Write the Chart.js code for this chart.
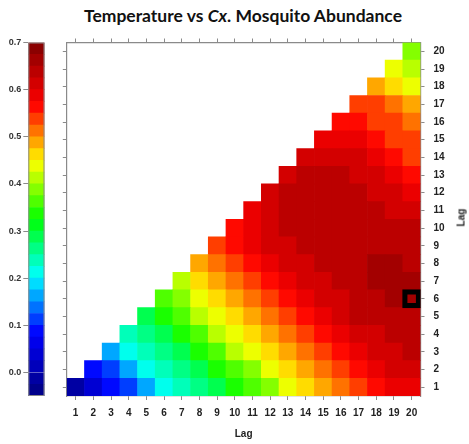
<!DOCTYPE html>
<html>
<head>
<meta charset="utf-8">
<script src="https://cdn.jsdelivr.net/npm/chart.js@4.4.1/dist/chart.umd.min.js"></script>
<style>
  html, body { margin: 0; padding: 0; background: #fff; }
  #wrap { position: relative; width: 469px; height: 444px; overflow: hidden; font-family: "Liberation Sans", Arial, sans-serif; }
  #title { position: absolute; left: 0; width: 486px; top: 5px; text-align: center; font-family: Lato, "Liberation Sans", sans-serif; font-size: 17.5px; font-weight: bold; color: #111; }
  #keyCanvas, #heatCanvas { position: absolute; left: 0; top: 0; }
  #rightTitle { position: absolute; left: 449px; top: 212px; width: 24px; text-align: center; font-size: 10px; font-weight: bold; color: #222; transform: rotate(-90deg); }
</style>
</head>
<body>
<div id="wrap">
  <div id="title">Temperature vs <i>Cx</i>. Mosquito Abundance</div>
  <canvas id="keyCanvas" width="50" height="444"></canvas>
  <canvas id="heatCanvas" width="469" height="444"></canvas>
  <div id="rightTitle">Lag</div>
</div>
<script>
// lags on both axes
var lagLabels = ['1','2','3','4','5','6','7','8','9','10','11','12','13','14','15','16','17','18','19','20'];

// correlation per row (y lag), listed from column x = row up to 20
var rowValues = [
  [-0.02,0.04,0.09,0.11,0.16,0.21,0.24,0.26,0.29,0.34,0.36,0.39,0.44,0.46,0.49,0.51,0.54,0.56,0.59,0.59],
  [0.09,0.11,0.16,0.21,0.24,0.26,0.29,0.34,0.36,0.39,0.44,0.46,0.49,0.51,0.54,0.56,0.59,0.61,0.61],
  [0.16,0.21,0.24,0.26,0.29,0.34,0.36,0.41,0.44,0.46,0.49,0.51,0.54,0.56,0.59,0.61,0.61,0.64],
  [0.24,0.26,0.29,0.34,0.36,0.41,0.44,0.46,0.49,0.51,0.54,0.56,0.59,0.61,0.61,0.64,0.64],
  [0.29,0.34,0.36,0.41,0.44,0.46,0.49,0.51,0.54,0.56,0.59,0.61,0.64,0.64,0.64,0.64],
  [0.36,0.39,0.44,0.46,0.49,0.51,0.54,0.56,0.59,0.61,0.61,0.64,0.64,0.66,0.66],
  [0.41,0.46,0.49,0.51,0.54,0.56,0.59,0.61,0.61,0.64,0.64,0.66,0.66,0.66],
  [0.49,0.51,0.54,0.56,0.59,0.61,0.61,0.64,0.64,0.64,0.66,0.66,0.64],
  [0.54,0.56,0.59,0.61,0.61,0.64,0.64,0.64,0.64,0.64,0.64,0.64],
  [0.56,0.59,0.61,0.64,0.64,0.64,0.64,0.64,0.64,0.64,0.64],
  [0.59,0.61,0.64,0.64,0.64,0.64,0.64,0.64,0.61,0.61],
  [0.61,0.64,0.64,0.64,0.64,0.64,0.61,0.61,0.59],
  [0.61,0.64,0.64,0.64,0.61,0.61,0.59,0.56],
  [0.61,0.61,0.61,0.61,0.59,0.56,0.54],
  [0.59,0.59,0.59,0.56,0.54,0.54],
  [0.56,0.56,0.54,0.54,0.51],
  [0.54,0.54,0.51,0.49],
  [0.49,0.46,0.44],
  [0.44,0.41],
  [0.39]
];

// boxed cell (x lag, y lag)
var markedCell = [20, 6];

// colour key range and labels
var keyMin = -0.05, keyMax = 0.7, keyStep = 0.025;
var keyTicks = [0.0, 0.1, 0.2, 0.3, 0.4, 0.5, 0.6, 0.7];

var rampStops = ['#00008B', '#0000FF', '#00FFFF', '#00FF00', '#FFFF00', '#FF0000', '#8B0000'];

function hexRgb(h) {
  return [parseInt(h.substr(1, 2), 16), parseInt(h.substr(3, 2), 16), parseInt(h.substr(5, 2), 16)];
}

function makeRamp(n) {
  var out = [];
  for (var k = 0; k < n; k++) {
    var pos = k * (rampStops.length - 1) / (n - 1);
    var i = Math.min(Math.floor(pos), rampStops.length - 2);
    var t = pos - i;
    var a = hexRgb(rampStops[i]), b = hexRgb(rampStops[i + 1]);
    var c = a.map(function(v, j) { return Math.round(v + (b[j] - v) * t); });
    out.push('rgb(' + c.join(',') + ')');
  }
  return out;
}

var nBands = Math.round((keyMax - keyMin) / keyStep);
var palette = makeRamp(nBands);

function colorFor(v) {
  var k = Math.floor((v - keyMin) / keyStep);
  k = Math.max(0, Math.min(nBands - 1, k));
  return palette[k];
}

var axisGrey = '#8a8a8a';
var tickFont = { family: '"Liberation Sans", Arial, sans-serif', size: 10, weight: 'bold' };

// ---- colour key ----
var keySets = [];
for (var b = 0; b < nBands; b++) {
  keySets.push({
    data: [[keyMin + b * keyStep, keyMin + (b + 1) * keyStep]],
    backgroundColor: palette[b],
    borderWidth: 0,
    barPercentage: 1,
    categoryPercentage: 1,
    grouped: false
  });
}

var frame = {
  id: 'frame',
  afterDatasetsDraw: function(chart) {
    var a = chart.chartArea, ctx = chart.ctx;
    ctx.save();
    ctx.strokeStyle = axisGrey;
    ctx.lineWidth = 1;
    ctx.strokeRect(a.left + 0.5, a.top + 0.5, a.right - a.left - 1, a.bottom - a.top - 1);
    ctx.restore();
  }
};

new Chart(document.getElementById('keyCanvas'), {
  type: 'bar',
  data: { labels: [''], datasets: keySets },
  options: {
    responsive: false,
    animation: false,
    devicePixelRatio: 1,
    layout: { padding: { top: 42.5, bottom: 48, right: 5.5, left: 0 } },
    plugins: { legend: { display: false }, tooltip: { enabled: false } },
    scales: {
      x: { display: false },
      y: {
        min: keyMin,
        max: keyMax,
        afterBuildTicks: function(axis) { axis.ticks = keyTicks.map(function(v) { return { value: v }; }); },
        afterFit: function(axis) { axis.width = 28.3; },
        ticks: {
          color: '#333',
          font: { family: tickFont.family, size: 9, weight: 'bold' },
          padding: 2,
          callback: function(v) { return v.toFixed(1); }
        },
        grid: { drawOnChartArea: false, tickLength: 5, color: axisGrey },
        border: { display: false }
      }
    }
  },
  plugins: [frame]
});

// ---- heat map ----
var cellSets = rowValues.map(function(vals, i) {
  var row = i + 1;
  return {
    data: lagLabels.map(function(l, c) { return c >= i ? [row - 0.5, row + 0.5] : null; }),
    backgroundColor: lagLabels.map(function(l, c) { return c >= i ? colorFor(vals[c - i]) : 'rgba(0,0,0,0)'; }),
    borderWidth: 0,
    barPercentage: 1,
    categoryPercentage: 1,
    grouped: false
  };
});

// outline on the marked cell, drawn above the cells
cellSets.push({
  data: lagLabels.map(function(l) { return +l === markedCell[0] ? [markedCell[1] - 0.5, markedCell[1] + 0.5] : null; }),
  backgroundColor: 'rgba(0,0,0,0)',
  borderColor: '#000',
  borderWidth: 4,
  borderSkipped: false,
  inflateAmount: 0.6,
  barPercentage: 1,
  categoryPercentage: 1,
  grouped: false,
  order: -1
});

function lagTicks(axis) {
  axis.ticks = lagLabels.map(function(l) { return { value: +l }; });
}

function sideAxis(pos, showLabels, width) {
  return {
    type: 'linear',
    position: pos,
    min: 0.5,
    max: 20.5,
    afterBuildTicks: lagTicks,
    afterFit: function(axis) { axis.width = width; },
    ticks: { display: showLabels, color: '#222', font: tickFont, padding: 9 },
    grid: { drawOnChartArea: false, tickLength: 4, color: axisGrey },
    border: { color: axisGrey, width: 1.2 }
  };
}

new Chart(document.getElementById('heatCanvas'), {
  type: 'bar',
  data: { labels: lagLabels, datasets: cellSets },
  options: {
    responsive: false,
    animation: false,
    devicePixelRatio: 1,
    layout: { padding: 0 },
    plugins: { legend: { display: false }, tooltip: { enabled: false } },
    scales: {
      x: {
        type: 'category',
        position: 'bottom',
        offset: true,
        afterFit: function(axis) { axis.height = 48; },
        ticks: { color: '#222', font: tickFont, padding: 7, maxRotation: 0, autoSkip: false },
        grid: { offset: false, drawOnChartArea: false, tickLength: 4, color: axisGrey },
        border: { color: axisGrey, width: 1.2 },
        title: { display: true, text: 'Lag', color: '#222', font: { family: tickFont.family, size: 10, weight: 'bold' }, padding: { top: 0, bottom: 4 } }
      },
      xTop: {
        type: 'category',
        position: 'top',
        labels: lagLabels,
        offset: true,
        afterFit: function(axis) { axis.height = 42.5; },
        ticks: { display: false },
        grid: { offset: false, drawOnChartArea: false, tickLength: 4, color: axisGrey },
        border: { color: axisGrey, width: 1.2 }
      },
      y: sideAxis('left', false, 66.8),
      yRight: sideAxis('right', true, 48.5)
    }
  }
});
</script>
</body>
</html>
